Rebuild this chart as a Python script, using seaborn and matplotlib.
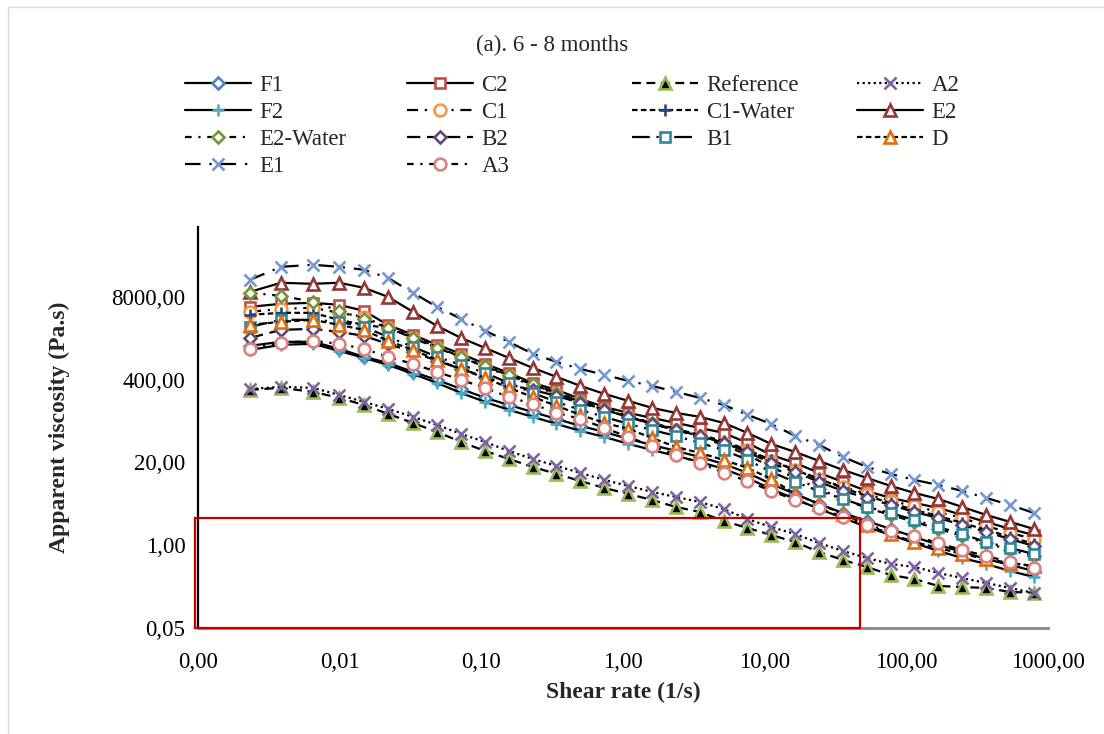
import matplotlib
matplotlib.use("Agg")
import matplotlib.pyplot as plt
import seaborn as sns
from matplotlib.patches import Rectangle
from matplotlib.ticker import FixedLocator, FixedFormatter, NullLocator

# Shear rate (1/s) of every measuring point
shear_rate = [0.00233, 0.00386, 0.00648, 0.00989, 0.0148, 0.0219, 0.0329, 0.0486, 0.0718,
              0.106, 0.156, 0.230, 0.339, 0.500, 0.737, 1.09, 1.60, 2.36, 3.48, 5.13,
              7.56, 11.1, 16.4, 24.2, 35.7, 52.6, 77.5, 114, 168, 248, 366, 540, 794]

# Apparent viscosity (Pa.s) per sample
visc_F1 = [1360, 1570, 1570, 1220, 911, 733, 529, 396, 286, 207, 160, 124, 96.5, 74.9, 60.3, 46.8,
           37.7, 30.3, 24.4, 18.9, 13.7, 9.18, 6.39, 4.45, 3.21, 2.40, 1.80, 1.35, 1.01, 0.783,
           0.607, 0.489, 0.393]
visc_C2 = [5570, 6210, 6440, 5990, 4820, 2900, 2020, 1410, 1020, 707, 511, 355, 276, 199, 149, 120,
           100, 83.5, 69.7, 58.2, 40.5, 26.2, 19.6, 13.7, 9.86, 7.12, 5.53, 4.61, 3.85, 2.99,
           2.32, 1.80, 1.45]
visc_Reference = [276, 297, 257, 207, 160, 116, 83.5, 60.3, 42.0, 30.3, 22.7, 17.0, 13.2, 10.2,
                  7.94, 6.39, 5.14, 3.99, 3.33, 2.40, 1.87, 1.45, 1.12, 0.783, 0.586, 0.455,
                  0.340, 0.294, 0.229, 0.220, 0.213, 0.184, 0.180]
visc_A2 = [286, 308, 297, 230, 179, 139, 104, 77.7, 56.1, 42.0, 30.3, 22.7, 17.6, 13.7, 10.6, 8.54,
           6.87, 5.73, 4.78, 3.71, 2.58, 1.93, 1.50, 1.08, 0.812, 0.630, 0.507, 0.455, 0.366,
           0.305, 0.255, 0.213, 0.177]
visc_F2 = [1170, 1410, 1460, 1130, 879, 682, 492, 355, 247, 179, 134, 104, 80.6, 62.5, 50.3, 39.1,
           31.4, 25.3, 20.4, 15.8, 11.4, 7.66, 5.33, 3.71, 2.68, 1.93, 1.45, 1.08, 0.812, 0.630,
           0.507, 0.393, 0.317]
visc_C1 = [4650, 5180, 5370, 4480, 3880, 2600, 1810, 1260, 911, 634, 458, 319, 239, 179, 134, 104,
           80.6, 64.8, 52.2, 40.5, 31.4, 21.1, 15.2, 11.0, 8.23, 6.39, 4.96, 4.14, 3.33, 2.68,
           2.01, 1.56, 1.25]
visc_C1_Water = [4170, 4480, 4480, 3480, 2900, 2600, 1880, 1310, 911, 634, 475, 331, 247, 179, 134,
                 104, 83.5, 67.2, 54.1, 43.5, 31.4, 21.9, 15.2, 11.0, 7.94, 5.94, 4.61, 3.58,
                 2.88, 2.24, 1.74, 1.35, 1.05]
visc_E2 = [9590, 13300, 12800, 13300, 11100, 8000, 4650, 2800, 1810, 1260, 879, 612, 442, 319, 239,
           185, 144, 120, 104, 83.5, 58.2, 39.1, 29.2, 21.1, 15.2, 11.4, 8.54, 6.63, 5.33, 3.99,
           2.99, 2.32, 1.80]
visc_E2_Water = [9250, 8300, 6680, 4820, 3610, 2600, 1810, 1260, 911, 658, 475, 343, 247, 185, 139,
                 108, 83.5, 64.8, 50.3, 37.7, 26.2, 17.0, 11.4, 7.66, 5.33, 3.85, 2.99, 2.32,
                 1.80, 1.40, 1.08, 0.841, 0.677]
visc_B2 = [1810, 2420, 2510, 2250, 1950, 1460, 1090, 788, 590, 442, 331, 276, 222, 172, 134, 104,
           80.6, 64.8, 52.2, 40.5, 29.2, 19.6, 14.2, 9.86, 7.12, 5.53, 4.29, 3.33, 2.68, 2.08,
           1.61, 1.25, 0.973]
visc_B1 = [2700, 3480, 3480, 3240, 2700, 1880, 1310, 911, 682, 511, 355, 247, 179, 134, 104, 80.6,
           64.8, 52.2, 40.5, 31.4, 21.9, 14.2, 9.86, 7.12, 5.33, 3.99, 3.21, 2.49, 1.93, 1.50,
           1.12, 0.905, 0.728]
visc_D = [2900, 3240, 3480, 2900, 2420, 1630, 1170, 817, 590, 426, 297, 214, 155, 112, 83.5, 67.2,
          48.5, 35.0, 28.2, 21.9, 16.4, 11.0, 6.39, 4.45, 3.10, 2.08, 1.50, 1.12, 0.905, 0.728,
          0.607, 0.526, 0.472]
visc_E1 = [14800, 23700, 25500, 23700, 21300, 15900, 9250, 5570, 3610, 2340, 1570, 1020, 760, 590,
           475, 382, 319, 257, 207, 160, 112, 80.6, 52.2, 37.7, 24.4, 17.0, 13.2, 10.6, 8.85,
           7.12, 5.53, 4.29, 3.21]
visc_A3 = [1220, 1510, 1630, 1460, 1220, 911, 707, 529, 396, 297, 214, 166, 120, 96.5, 69.7, 50.3,
           36.3, 26.2, 19.6, 13.7, 10.2, 7.12, 5.14, 3.85, 2.78, 2.08, 1.67, 1.40, 1.08, 0.841,
           0.677, 0.545, 0.439]

sample_names = ["F1", "C2", "Reference", "A2", "F2", "C1", "C1-Water", "E2",
                "E2-Water", "B2", "B1", "D", "E1", "A3"]
sample_values = [visc_F1, visc_C2, visc_Reference, visc_A2, visc_F2, visc_C1, visc_C1_Water,
                 visc_E2, visc_E2_Water, visc_B2, visc_B1, visc_D, visc_E1, visc_A3]

x_ticks = [0.001, 0.01, 0.1, 1, 10, 100, 1000]
x_tick_labels = ["0,00", "0,01", "0,10", "1,00", "10,00", "100,00", "1000,00"]
y_ticks = [0.05, 1, 20, 400, 8000]
y_tick_labels = ["0,05", "1,00", "20,00", "400,00", "8000,00"]

# highlighted region (shear rate / viscosity limits)
box_x = (0.00095, 47)
box_y = (0.05, 2.68)

# line style, marker, face colour, edge colour, marker size
styles = {
    "F1":        ("-",                   "D", "white",   "#4F81BD", 6.5),
    "C2":        ("-",                   "s", "white",   "#C0504D", 7.5),
    "Reference": ((0, (4, 2.5)),         "^", "black",   "#9BBB59", 8.5),
    "A2":        ((0, (1, 1.5)),         "x", "#8064A2", "#8064A2", 8.5),
    "F2":        ("-",                   "+", "#4BACC6", "#4BACC6", 9),
    "C1":        ((0, (5, 3, 1, 3)),     "o", "white",   "#F79646", 8.5),
    "C1-Water":  ((0, (2.5, 1.5)),       "+", "#1F497D", "#1F497D", 9),
    "E2":        ("-",                   "^", "white",   "#953735", 8.5),
    "E2-Water":  ((0, (3, 3, 1, 3)),     "D", "white",   "#77933C", 6.5),
    "B2":        ((0, (6, 3)),           "D", "white",   "#604A7B", 6.5),
    "B1":        ((0, (8, 3, 1, 3, 1, 3)), "s", "white", "#31859C", 7.5),
    "D":         ((0, (2.5, 1.5)),       "^", "white",   "#E46C0A", 8.5),
    "E1":        ((0, (7, 4, 1, 4)),     "x", "#7399D0", "#7399D0", 9),
    "A3":        ((0, (3, 3, 1, 3)),     "o", "white",   "#D9827F", 8.5),
}

sns.set_theme(style="white")
plt.rcParams["font.family"] = ["Liberation Serif", "DejaVu Serif"]

W, H = 1104, 734
fig = plt.figure(figsize=(W / 100, H / 100), dpi=100)
ax = fig.add_axes([198 / W, 1 - 628 / H, (1048 - 198) / W, (628 - 227) / H])
ax.set_xscale("log")
ax.set_yscale("log")

handles = {}
for name, values in zip(sample_names, sample_values):
    ls, mk, fc, ec, ms = styles[name]
    sns.lineplot(x=shear_rate, y=values, ax=ax, color="black", linewidth=1.6,
                 linestyle=ls, marker=mk, markersize=ms, markerfacecolor=fc,
                 markeredgecolor=ec, markeredgewidth=1.9, legend=False,
                 estimator=None, sort=False)
    handles[name] = ax.lines[-1]

ax.set_xlim(0.001, 1000)
ax.set_ylim(0.05, 1.0e5)
ax.xaxis.set_major_locator(FixedLocator(x_ticks))
ax.xaxis.set_major_formatter(FixedFormatter(x_tick_labels))
ax.xaxis.set_minor_locator(NullLocator())
ax.yaxis.set_major_locator(FixedLocator(y_ticks))
ax.yaxis.set_major_formatter(FixedFormatter(y_tick_labels))
ax.yaxis.set_minor_locator(NullLocator())

for side in ("top", "right"):
    ax.spines[side].set_visible(False)
ax.spines["left"].set_color("black")
ax.spines["left"].set_linewidth(1.6)
ax.spines["bottom"].set_color("#868686")
ax.spines["bottom"].set_linewidth(2.0)
ax.tick_params(axis="y", direction="inout", length=10, width=1.6, color="black",
               labelsize=16.5, pad=4, labelcolor="black")
ax.tick_params(axis="x", direction="inout", length=10, width=1.6, color="#868686",
               labelsize=16.5, pad=12, labelcolor="black")
ax.grid(False)

ax.set_xlabel("Shear rate (1/s)", fontsize=17, fontweight="bold", labelpad=7)
ax.set_ylabel("Apparent viscosity (Pa.s)", fontsize=17, fontweight="bold", labelpad=30)

ax.add_patch(Rectangle((box_x[0], box_y[0]), box_x[1] - box_x[0], box_y[1] - box_y[0],
                       fill=False, edgecolor="#C00000", linewidth=1.6, clip_on=False, zorder=5))

fig.text(0.5, 1 - 45 / H, "(a). 6 - 8 months", ha="center", va="center", fontsize=16.5)

# chart area border
fig.patches.append(Rectangle((8 / W, -0.1), 1.2, 1 - 7 / H + 0.1, transform=fig.transFigure,
                             fill=False, edgecolor="#D9D9D9", linewidth=1.0))

legend_columns = [["F1", "F2", "E2-Water", "E1"],
                  ["C2", "C1", "B2", "A3"],
                  ["Reference", "C1-Water", "B1"],
                  ["A2", "E2", "D"]]
legend_left = [185, 407, 632, 857]
for names, x0 in zip(legend_columns, legend_left):
    fig.legend([handles[n] for n in names], names, loc="upper left",
               bbox_to_anchor=(x0 / W, 1 - 75 / H), frameon=False, borderpad=0,
               borderaxespad=0, handlelength=2.9, handletextpad=0.35, labelspacing=0.26,
               fontsize=16.5, numpoints=1)

fig.savefig("out.png", dpi=100)
